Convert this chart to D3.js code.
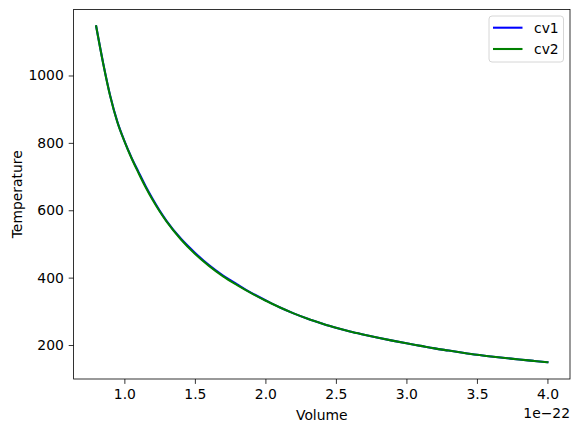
<!DOCTYPE html>
<html>
<head>
<meta charset="utf-8">
<script src="https://cdn.jsdelivr.net/npm/d3@7"></script>
<style>
  html, body { margin: 0; padding: 0; background: #fff; }
  svg { display: block; font-family: "DejaVu Sans", sans-serif; }
</style>
</head>
<body>
<svg id="chart" width="580" height="432"></svg>
<script>
// volume, in units of 1e-22
var volume = [0.8, 0.85, 0.9, 0.95, 1.0, 1.05, 1.1, 1.15, 1.2, 1.25, 1.3, 1.4, 1.5, 1.6, 1.7, 1.8, 1.9, 2.0,
  2.1, 2.2, 2.3, 2.4, 2.5, 2.6, 2.7, 2.8, 2.9, 3.0, 3.1, 3.2, 3.3, 3.4, 3.5, 3.6, 3.7, 3.8, 3.9, 4.0];
var cv1 = [1146, 1036, 939, 863, 806, 757, 714, 672, 634, 599, 568, 516, 474, 437, 406, 380, 355, 333,
  312, 294, 278, 264, 251, 240, 230.5, 221.5, 213, 205, 197.5, 190, 183.5, 177, 171, 166, 161.5, 157, 153, 149];
var cv2 = [1146, 1035, 938, 862, 805, 755, 711, 669, 631, 597, 566, 514, 471, 435, 404, 378, 354, 332,
  312, 294, 278, 264, 251, 240, 230.5, 221.5, 213, 205, 197.5, 190, 183.5, 177, 171, 166, 161.5, 157, 153, 149];
var xTicks = [1.0, 1.5, 2.0, 2.5, 3.0, 3.5, 4.0];
var yTicks = [200, 400, 600, 800, 1000];
var seriesNames = ["cv1", "cv2"];
var seriesColors = ["blue", "green"];

var svg = d3.select("#chart");
var margin = {left: 73.6, right: 10, top: 9.5, bottom: 53};
var W = 580, H = 432;

// matplotlib style 5% padding on both axes
var xExt = d3.extent(volume);
var yExt = d3.extent(cv1.concat(cv2));
var xPad = (xExt[1] - xExt[0]) * 0.05, yPad = (yExt[1] - yExt[0]) * 0.05;

var x = d3.scaleLinear()
  .domain([xExt[0] - xPad, xExt[1] + xPad])
  .range([margin.left, W - margin.right]);
var y = d3.scaleLinear()
  .domain([yExt[0] - yPad, yExt[1] + yPad])
  .range([H - margin.bottom, margin.top]);

var g = svg.append("g");

var xAxis = g.append("g")
  .attr("transform", "translate(0," + (H - margin.bottom) + ")")
  .call(d3.axisBottom(x).tickValues(xTicks).tickFormat(d3.format(".1f")).tickSizeOuter(0).tickSize(4.9).tickPadding(4.9));
var yAxis = g.append("g")
  .attr("transform", "translate(" + margin.left + ",0)")
  .call(d3.axisLeft(y).tickValues(yTicks).tickFormat(d3.format("d")).tickSizeOuter(0).tickSize(4.9).tickPadding(4.9));

[xAxis, yAxis].forEach(function (a) {
  a.select(".domain").remove();
  a.selectAll("line").attr("stroke", "#000").attr("stroke-width", 0.8);
  a.selectAll("text").attr("font-size", "13.9px").attr("fill", "#000")
    .attr("font-family", "DejaVu Sans, sans-serif");
});

// lines
var data = [cv1, cv2];
var line = d3.line()
  .x(function (d, i) { return x(volume[i]); })
  .y(function (d) { return y(d); })
  .curve(d3.curveMonotoneX);

data.forEach(function (s, k) {
  g.append("path")
    .datum(s)
    .attr("fill", "none")
    .attr("stroke", seriesColors[k])
    .attr("stroke-width", 2.08)
    .attr("stroke-linejoin", "round")
    .attr("stroke-linecap", "square")
    .attr("d", line);
});

// frame
g.append("rect")
  .attr("x", margin.left).attr("y", margin.top)
  .attr("width", W - margin.right - margin.left)
  .attr("height", H - margin.bottom - margin.top)
  .attr("fill", "none").attr("stroke", "#000").attr("stroke-width", 0.8);

// axis labels
svg.append("text")
  .attr("x", (margin.left + W - margin.right) / 2).attr("y", 420)
  .attr("text-anchor", "middle").attr("font-size", "13.9px")
  .text("Volume");
svg.append("text")
  .attr("transform", "translate(22," + ((margin.top + H - margin.bottom) / 2) + ") rotate(-90)")
  .attr("text-anchor", "middle").attr("font-size", "13.9px")
  .text("Temperature");
svg.append("text")
  .attr("x", W - margin.right).attr("y", 418)
  .attr("text-anchor", "end").attr("font-size", "13.9px")
  .text("1e\u221222");

// legend
var lg = svg.append("g");
lg.append("rect")
  .attr("x", 489).attr("y", 16).attr("width", 74.5).attr("height", 46)
  .attr("rx", 3).attr("fill", "#fff").attr("fill-opacity", 0.8)
  .attr("stroke", "#d6d6d6").attr("stroke-width", 1);
seriesNames.forEach(function (n, k) {
  var ly = 27.7 + k * 21.3;
  lg.append("line")
    .attr("x1", 493).attr("x2", 522.5).attr("y1", ly).attr("y2", ly)
    .attr("stroke", seriesColors[k]).attr("stroke-width", 2.08);
  lg.append("text")
    .attr("x", 534).attr("y", ly + 5)
    .attr("font-size", "13.9px").text(n);
});
</script>
</body>
</html>
